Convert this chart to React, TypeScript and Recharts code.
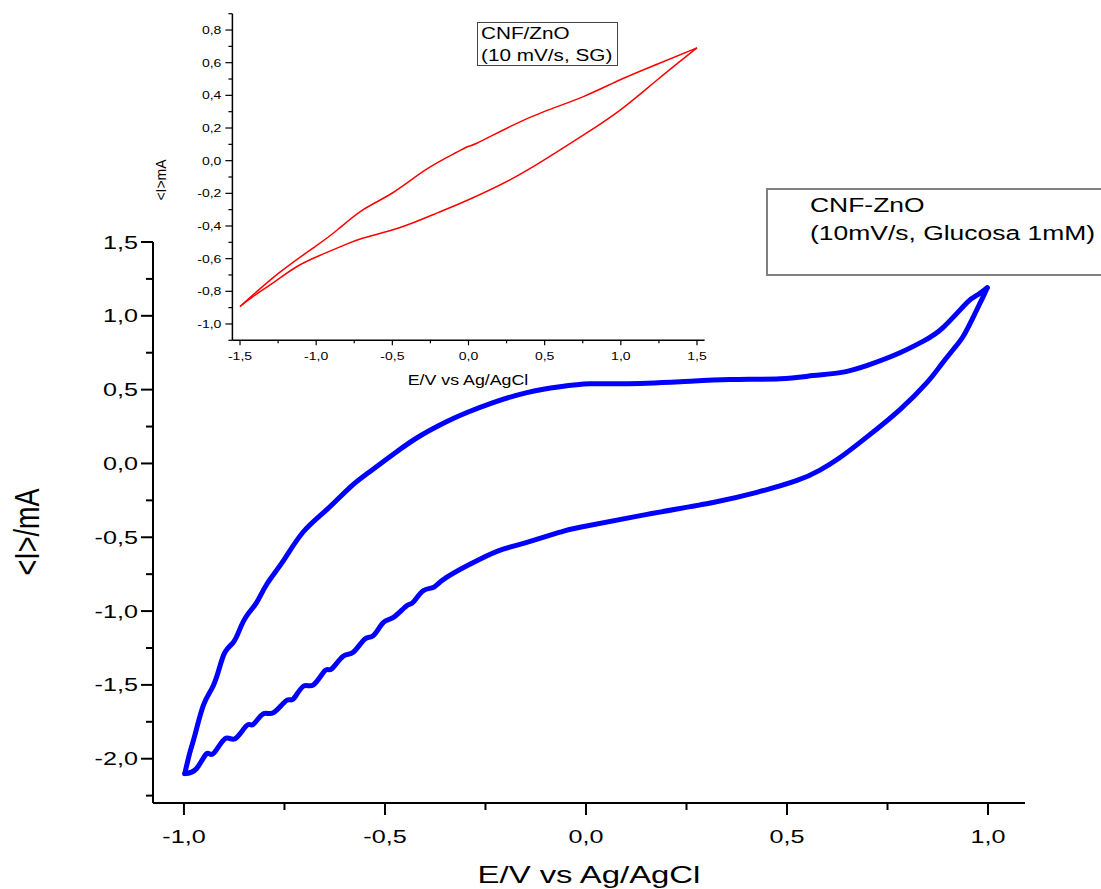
import React from 'react';
import { LineChart, Line, XAxis, YAxis, Legend, Label } from 'recharts';

// ---------- Main CV (CNF-ZnO, 10 mV/s, Glucosa 1mM) ----------
const mainForwardE = [-0.998, -0.985, -0.973, -0.952, -0.931, -0.915, -0.898, -0.877, -0.861, -0.844, -0.819, -0.794, -0.753, -0.704, -0.644, -0.587, -0.537, -0.47, -0.413, -0.346, -0.296, -0.231, -0.147, -0.065, 0.01, 0.092, 0.234, 0.358, 0.483, 0.565, 0.632, 0.7, 0.781, 0.84, 0.888, 0.948, 0.973, 0.998];
const mainForwardI = [-2.101, -1.955, -1.842, -1.64, -1.527, -1.414, -1.279, -1.211, -1.122, -1.032, -0.941, -0.818, -0.66, -0.466, -0.311, -0.162, -0.054, 0.081, 0.186, 0.284, 0.345, 0.412, 0.48, 0.52, 0.54, 0.54, 0.554, 0.568, 0.574, 0.595, 0.615, 0.665, 0.75, 0.83, 0.92, 1.09, 1.14, 1.19];
const mainReverseE = [0.998, 0.988, 0.963, 0.938, 0.913, 0.881, 0.848, 0.781, 0.699, 0.632, 0.582, 0.525, 0.425, 0.316, 0.152, -0.015, -0.065, -0.147, -0.206, -0.264, -0.347, -0.38, -0.405, -0.43, -0.446, -0.479, -0.504, -0.529, -0.55, -0.579, -0.604, -0.633, -0.649, -0.678, -0.703, -0.728, -0.745, -0.778, -0.803, -0.828, -0.844, -0.873, -0.898, -0.927, -0.944, -0.969, -0.998];
const mainReverseI = [1.19, 1.13, 0.99, 0.86, 0.77, 0.66, 0.547, 0.365, 0.18, 0.04, -0.045, -0.115, -0.196, -0.264, -0.345, -0.432, -0.466, -0.534, -0.581, -0.649, -0.772, -0.84, -0.863, -0.941, -0.964, -1.043, -1.077, -1.167, -1.189, -1.279, -1.306, -1.392, -1.403, -1.5, -1.509, -1.595, -1.606, -1.689, -1.696, -1.768, -1.775, -1.865, -1.865, -1.966, -1.966, -2.068, -2.101];

// ---------- Inset CV (CNF/ZnO, 10 mV/s, SG) ----------
const insetForwardE = [-1.5, -1.246, -1.005, -0.86, -0.691, -0.5, -0.28, -0.087, 0, 0.058, 0.275, 0.5, 0.758, 1.0, 1.242, 1.5];
const insetForwardI = [-0.893, -0.689, -0.525, -0.423, -0.3, -0.198, -0.055, 0.047, 0.088, 0.108, 0.21, 0.302, 0.394, 0.497, 0.592, 0.691];
const insetReverseE = [1.5, 1.242, 1.0, 0.758, 0.5, 0.275, 0, -0.208, -0.449, -0.691, -0.836, -0.981, -1.126, -1.271, -1.415, -1.5];
const insetReverseI = [0.691, 0.497, 0.313, 0.159, 0.006, -0.116, -0.239, -0.321, -0.409, -0.474, -0.525, -0.582, -0.648, -0.74, -0.832, -0.893];

// ---------- Ticks & texts ----------
const mainXTicks = [-1, -0.75, -0.5, -0.25, 0, 0.25, 0.5, 0.75, 1];
const mainYTicks = [-2.25, -2, -1.75, -1.5, -1.25, -1, -0.75, -0.5, -0.25, 0, 0.25, 0.5, 0.75, 1, 1.25, 1.5];
const insetXTicks = [-1.5, -1.25, -1, -0.75, -0.5, -0.25, 0, 0.25, 0.5, 0.75, 1, 1.25, 1.5];
const insetYTicks = [-1.1, -1, -0.9, -0.8, -0.7, -0.6, -0.5, -0.4, -0.3, -0.2, -0.1, 0, 0.1, 0.2, 0.3, 0.4, 0.5, 0.6, 0.7, 0.8, 0.9];
const mainXTitle = 'E/V vs Ag/AgCl';
const mainYTitle = '<I>/mA';
const insetXTitle = 'E/V vs Ag/AgCl';
const insetYTitle = '<I>mA';
const mainLegendLines = ['CNF-ZnO', '(10mV/s, Glucosa 1mM)'];
const insetLegendLines = ['CNF/ZnO', '(10 mV/s, SG)'];

const zip = (e: number[], i: number[]) => e.map((v, k) => ({ e: v, i: i[k] }));
const mainForward = zip(mainForwardE, mainForwardI);
const mainReverse = zip(mainReverseE, mainReverseI);
const insetForward = zip(insetForwardE, insetForwardI);
const insetReverse = zip(insetReverseE, insetReverseI);

const FONT = '"Liberation Sans", Arial, sans-serif';
const fmt = (v: number) => v.toFixed(1).replace('.', ',');
const isMajor = (v: number, step: number) => Math.abs(v / step - Math.round(v / step)) < 1e-6;

// Main axis ticks (x,y = point on the axis line because tickSize/tickMargin are 0)
const MainXTick = (p: any) => {
  const { x, y, payload } = p;
  const major = isMajor(payload.value, 0.5);
  return (
    <g>
      <line x1={x} x2={x} y1={y} y2={y + (major ? 12 : 7)} stroke="#000" strokeWidth={2} />
      {major && (
        <text transform={`translate(${x},${y + 40}) scale(1.4,1)`} textAnchor="middle" fontFamily={FONT} fontSize={18} fill="#000">
          {fmt(payload.value)}
        </text>
      )}
    </g>
  );
};
const MainYTick = (p: any) => {
  const { x, y, payload } = p;
  const major = isMajor(payload.value, 0.5);
  return (
    <g>
      <line x1={x} x2={x - (major ? 12 : 7)} y1={y} y2={y} stroke="#000" strokeWidth={2} />
      {major && (
        <text transform={`translate(${x - 15},${y + 6.5}) scale(1.4,1)`} textAnchor="end" fontFamily={FONT} fontSize={18} fill="#000">
          {fmt(payload.value)}
        </text>
      )}
    </g>
  );
};
// Inset axis ticks
const InsetXTick = (p: any) => {
  const { x, y, payload } = p;
  const major = isMajor(payload.value, 0.5);
  return (
    <g>
      <line x1={x} x2={x} y1={y} y2={y + (major ? 5 : 3)} stroke="#000" strokeWidth={1.2} />
      {major && (
        <text transform={`translate(${x},${y + 20}) scale(1.22,1)`} textAnchor="middle" fontFamily={FONT} fontSize={11.5} fill="#000">
          {fmt(payload.value)}
        </text>
      )}
    </g>
  );
};
const InsetYTick = (p: any) => {
  const { x, y, payload } = p;
  const major = isMajor(payload.value, 0.2) && Math.abs(payload.value) < 1.05;
  return (
    <g>
      <line x1={x} x2={x - (major ? 7 : 4)} y1={y} y2={y} stroke="#000" strokeWidth={1.2} />
      {major && (
        <text transform={`translate(${x - 11},${y + 4}) scale(1.22,1)`} textAnchor="end" fontFamily={FONT} fontSize={11.5} fill="#000">
          {fmt(payload.value)}
        </text>
      )}
    </g>
  );
};

const MainLegend = () => (
  <svg width={345} height={90} style={{ display: 'block', overflow: 'visible' }}>
    <rect x={1} y={1} width={360} height={86} fill="none" stroke="#808080" strokeWidth={2} />
    {mainLegendLines.map((t, k) => (
      <text key={k} transform={`translate(44,${24 + k * 28}) scale(1.26,1)`} fontFamily={FONT} fontSize={21} fill="#000">
        {t}
      </text>
    ))}
  </svg>
);
const InsetLegend = () => (
  <svg width={142} height={46} style={{ display: 'block', overflow: 'visible' }}>
    <rect x={0.5} y={0.5} width={140} height={43} fill="none" stroke="#444" strokeWidth={1} />
    {insetLegendLines.map((t, k) => (
      <text key={k} transform={`translate(4,${17 + k * 22}) scale(1.22,1)`} fontFamily={FONT} fontSize={17} fill="#000">
        {t}
      </text>
    ))}
  </svg>
);

export default function App() {
  return (
    <div style={{ position: 'absolute', left: 0, top: 0, width: 1101, height: 889, background: '#fff', overflow: 'hidden' }}>
      <div style={{ position: 'absolute', left: 0, top: 0 }}>
        <LineChart width={1101} height={889} margin={{ top: 242, right: 76, bottom: 85, left: 152 }}>
          <XAxis
            type="number"
            dataKey="e"
            domain={[-1.077, 1.092]}
            allowDataOverflow
            ticks={mainXTicks}
            interval={0}
            height={1}
            tickSize={0}
            tickMargin={0}
            tick={<MainXTick />}
            tickLine={false}
            axisLine={{ stroke: '#000', strokeWidth: 2 }}
          >
            <Label
              content={() => (
                <text transform={`translate(589,883) scale(1.37,1)`} textAnchor="middle" fontFamily={FONT} fontSize={24} fill="#000">
                  {mainXTitle}
                </text>
              )}
            />
          </XAxis>
          <YAxis
            type="number"
            dataKey="i"
            domain={[-2.3, 1.5]}
            allowDataOverflow
            ticks={mainYTicks}
            interval={0}
            width={1}
            tickSize={0}
            tickMargin={0}
            tick={<MainYTick />}
            tickLine={false}
            axisLine={{ stroke: '#000', strokeWidth: 2 }}
          >
            <Label
              content={() => (
                <text transform={`translate(39,532) scale(1.3,1) rotate(-90)`} textAnchor="middle" fontFamily={FONT} fontSize={27} fill="#000">
                  {mainYTitle}
                </text>
              )}
            />
          </YAxis>
          <Legend
            layout="horizontal"
            verticalAlign="middle"
            align="center"
            content={() => <MainLegend />}
            wrapperStyle={{ left: 766, top: 188, width: 345, height: 90 }}
          />
          <Line
            data={mainForward}
            type="natural"
            dataKey="i"
            name="CNF-ZnO"
            stroke="#0000ff"
            strokeWidth={5}
            strokeLinejoin="round"
            strokeLinecap="round"
            dot={false}
            isAnimationActive={false}
          />
          <Line
            data={mainReverse}
            type="natural"
            dataKey="i"
            name="CNF-ZnO (reverse)"
            legendType="none"
            stroke="#0000ff"
            strokeWidth={5}
            strokeLinejoin="round"
            strokeLinecap="round"
            dot={false}
            isAnimationActive={false}
          />
        </LineChart>
      </div>
      <div style={{ position: 'absolute', left: 0, top: 0, pointerEvents: 'none' }}>
        <LineChart width={1101} height={400} margin={{ top: 13.7, right: 396.4, bottom: 58.7, left: 231.4 }}>
          <XAxis
            type="number"
            dataKey="e"
            domain={[-1.55, 1.55]}
            allowDataOverflow
            ticks={insetXTicks}
            interval={0}
            height={1}
            tickSize={0}
            tickMargin={0}
            tick={<InsetXTick />}
            tickLine={false}
            axisLine={{ stroke: '#000', strokeWidth: 1.5 }}
          >
            <Label
              content={() => (
                <text transform={`translate(468,385) scale(1.27,1)`} textAnchor="middle" fontFamily={FONT} fontSize={14} fill="#000">
                  {insetXTitle}
                </text>
              )}
            />
          </XAxis>
          <YAxis
            type="number"
            dataKey="i"
            domain={[-1.1, 0.9]}
            allowDataOverflow
            ticks={insetYTicks}
            interval={0}
            width={1}
            tickSize={0}
            tickMargin={0}
            tick={<InsetYTick />}
            tickLine={false}
            axisLine={{ stroke: '#000', strokeWidth: 1.5 }}
          >
            <Label
              content={() => (
                <text transform={`translate(166,180) scale(1.1,1) rotate(-90)`} textAnchor="middle" fontFamily={FONT} fontSize={14} fill="#000">
                  {insetYTitle}
                </text>
              )}
            />
          </YAxis>
          <Legend
            layout="horizontal"
            verticalAlign="middle"
            align="center"
            content={() => <InsetLegend />}
            wrapperStyle={{ left: 477, top: 22, width: 142, height: 46 }}
          />
          <Line
            data={insetForward}
            type="natural"
            dataKey="i"
            name="CNF/ZnO"
            stroke="#ff0000"
            strokeWidth={1.5}
            dot={false}
            isAnimationActive={false}
          />
          <Line
            data={insetReverse}
            type="natural"
            dataKey="i"
            name="CNF/ZnO (reverse)"
            legendType="none"
            stroke="#ff0000"
            strokeWidth={1.5}
            dot={false}
            isAnimationActive={false}
          />
        </LineChart>
      </div>
    </div>
  );
}
